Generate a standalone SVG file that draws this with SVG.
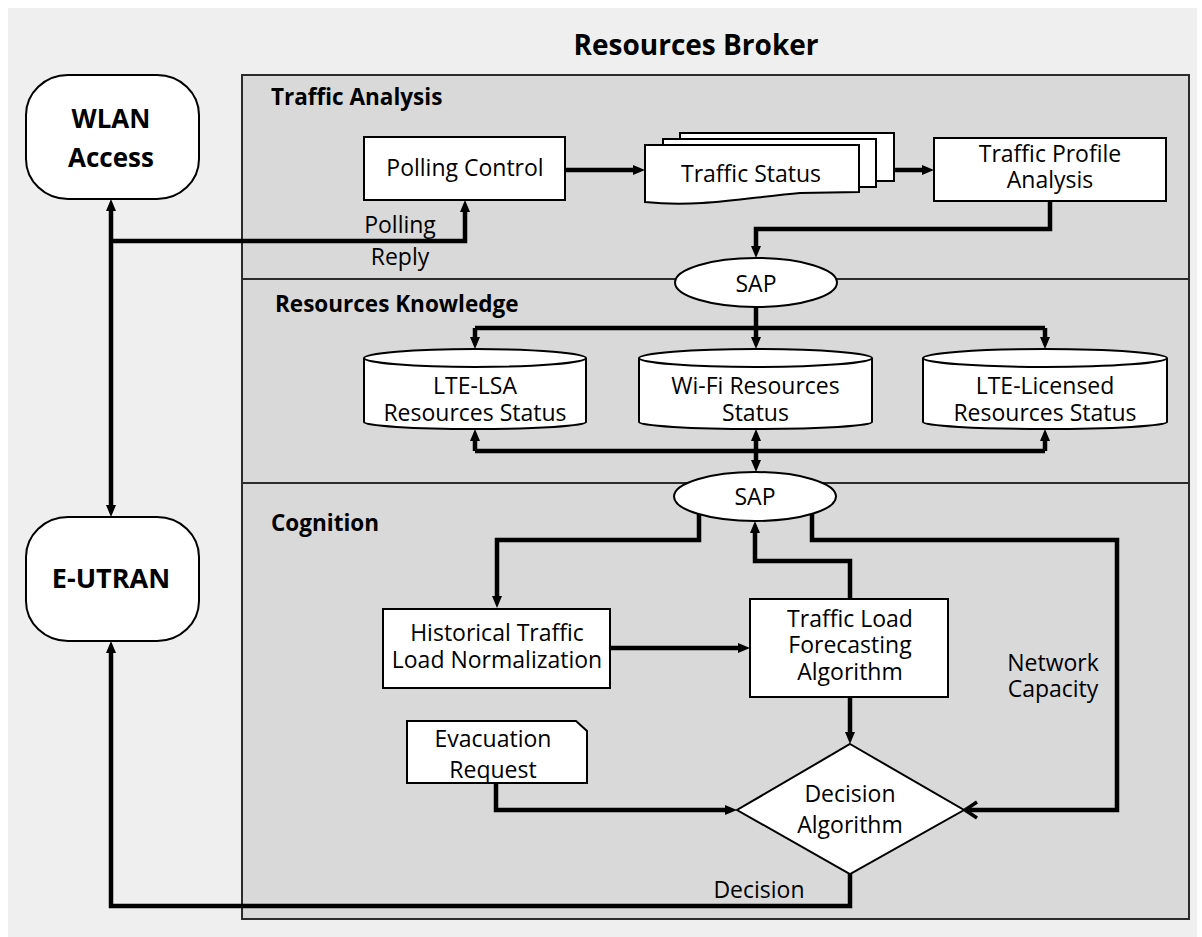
<svg xmlns="http://www.w3.org/2000/svg" width="1202" height="937" viewBox="0 0 1202 937">
<style>
text{font-family:"Open Sans","Noto Sans","Liberation Sans",sans-serif;fill:#000}
.t{font-size:23px;text-anchor:middle}
.b{font-weight:bold}
.sec{font-size:22.5px;font-weight:bold}
.node{fill:#fff;stroke:#000;stroke-width:2}
.conn path{fill:none;stroke:#000;stroke-width:4.5}
.div{stroke:#2b2b2b;stroke-width:2}
</style>
<defs>
<marker id="ah" viewBox="0 0 12 10" refX="2" refY="5" markerWidth="12" markerHeight="10" orient="auto-start-reverse" markerUnits="userSpaceOnUse">
<path d="M0,0 L12,5 L0,10 Z" fill="#000"/>
</marker>
<marker id="oa" viewBox="-2 -10 16 20" refX="12" refY="0" markerWidth="16" markerHeight="20" orient="auto" markerUnits="userSpaceOnUse">
<path d="M0,-8 L12,0 L0,8" fill="none" stroke="#000" stroke-width="3.5"/>
</marker>
</defs>
<rect x="8" y="8" width="1189" height="929" fill="#efefef"/>
<text x="696" y="55" class="b" style="font-size:28px;text-anchor:middle">Resources Broker</text>
<g id="panel">
<rect x="242" y="75" width="947" height="844" fill="#d9d9d9" stroke="#2b2b2b" stroke-width="2"/>
<line x1="242" y1="279" x2="1189" y2="279" class="div"/>
<line x1="242" y1="483" x2="1189" y2="483" class="div"/>
<text x="271" y="105" class="sec">Traffic Analysis</text>
<text x="275" y="312" class="sec">Resources Knowledge</text>
<text x="271" y="531" class="sec">Cognition</text>
</g>
<g id="wlan">
<rect x="26" y="75" width="173" height="124" rx="42" ry="40" class="node"/>
<text x="111" y="128" class="b" style="font-size:26px;text-anchor:middle">WLAN</text>
<text x="111" y="167" class="b" style="font-size:26px;text-anchor:middle">Access</text>
</g>
<g id="eutran">
<rect x="26" y="517" width="173" height="124" rx="42" ry="40" class="node"/>
<text x="111" y="588" class="b" style="font-size:27px;text-anchor:middle">E-UTRAN</text>
</g>
<g id="polling-control">
<rect x="364" y="137" width="201" height="63" class="node"/>
<text x="465" y="176" class="t">Polling Control</text>
</g>
<g id="traffic-status">
<rect x="680" y="133" width="214" height="48" class="node"/>
<rect x="663" y="139" width="213" height="48" class="node"/>
<path d="M645,145 H859 V192 L800,193 C750,197 700,208 645,202 Z" class="node"/>
<text x="751" y="182" class="t">Traffic Status</text>
</g>
<g id="traffic-profile">
<rect x="934" y="138" width="232" height="63" class="node"/>
<text x="1050" y="162" class="t">Traffic Profile</text>
<text x="1050" y="188" class="t">Analysis</text>
</g>
<g id="sap1">
<ellipse cx="756" cy="282.5" rx="81" ry="24.5" class="node"/>
<text x="756" y="292" class="t">SAP</text>
</g>
<g id="lte-lsa">
<path d="M364,358 A111,9 0 0 1 586,358 V422 A111,7 0 0 1 364,422 Z" class="node"/>
<path d="M364,358 A111,9 0 0 0 586,358" class="node" fill="none"/>
<text x="475" y="394" class="t">LTE-LSA</text>
<text x="475" y="421" class="t">Resources Status</text>
</g>
<g id="wifi">
<path d="M639,358 A116.5,9 0 0 1 872,358 V422 A116.5,7 0 0 1 639,422 Z" class="node"/>
<path d="M639,358 A116.5,9 0 0 0 872,358" class="node" fill="none"/>
<text x="755.5" y="394" class="t">Wi-Fi Resources</text>
<text x="755.5" y="421" class="t">Status</text>
</g>
<g id="lte-licensed">
<path d="M923,358 A122,9 0 0 1 1167,358 V422 A122,7 0 0 1 923,422 Z" class="node"/>
<path d="M923,358 A122,9 0 0 0 1167,358" class="node" fill="none"/>
<text x="1045" y="394" class="t">LTE-Licensed</text>
<text x="1045" y="421" class="t">Resources Status</text>
</g>
<g id="sap2">
<ellipse cx="755" cy="496.5" rx="81" ry="24.5" class="node"/>
<text x="755" y="505" class="t">SAP</text>
</g>
<g id="historical">
<rect x="383" y="609" width="227" height="79" class="node"/>
<text x="497" y="641" class="t">Historical Traffic</text>
<text x="497" y="668" class="t">Load Normalization</text>
</g>
<g id="forecasting">
<rect x="750" y="599" width="198" height="98" class="node"/>
<text x="850" y="627" class="t">Traffic Load</text>
<text x="850" y="653" class="t">Forecasting</text>
<text x="850" y="680" class="t">Algorithm</text>
</g>
<g id="evacuation">
<path d="M407,721 H576 L587,731 V783 H407 Z" class="node"/>
<text x="493" y="747" class="t">Evacuation</text>
<text x="493" y="778" class="t">Request</text>
</g>
<g id="decision">
<path d="M850,744 L964,810 L850,874 L737,810 Z" class="node"/>
<text x="850" y="802" class="t">Decision</text>
<text x="850" y="833" class="t">Algorithm</text>
</g>
<g id="connectors" class="conn">
<path d="M111,209 V507" marker-start="url(#ah)" marker-end="url(#ah)"/>
<path d="M111,241 H465 V210" marker-end="url(#ah)"/>
<path d="M565,170 H635" marker-end="url(#ah)"/>
<path d="M894,170 H924" marker-end="url(#ah)"/>
<path d="M1050,201 V229 H756 V248" marker-end="url(#ah)"/>
<path d="M756,307 V339" marker-end="url(#ah)"/>
<path d="M475,328 H1045"/>
<path d="M475,328 V339" marker-end="url(#ah)"/>
<path d="M1045,328 V339" marker-end="url(#ah)"/>
<path d="M475,451 H1045"/>
<path d="M475,451 V439" marker-end="url(#ah)"/>
<path d="M1045,451 V439" marker-end="url(#ah)"/>
<path d="M756,439 V462" marker-start="url(#ah)" marker-end="url(#ah)"/>
<path d="M699,514 V540 H497 V598" marker-end="url(#ah)"/>
<path d="M812,514 V540 H1117 V810 H965" marker-end="url(#oa)"/>
<path d="M850,599 V561 H755 V531" marker-end="url(#ah)"/>
<path d="M610,648 H740" marker-end="url(#ah)"/>
<path d="M850,697 V734" marker-end="url(#ah)"/>
<path d="M496,783 V810 H727" marker-end="url(#ah)"/>
<path d="M850,874 V906 H111 V651" marker-end="url(#ah)"/>
</g>
<g id="labels">
<text x="400" y="233" class="t">Polling</text>
<text x="400" y="265" class="t">Reply</text>
<text x="1053" y="671" class="t">Network</text>
<text x="1053" y="697" class="t">Capacity</text>
<text x="759" y="898" class="t">Decision</text>
</g>
</svg>
